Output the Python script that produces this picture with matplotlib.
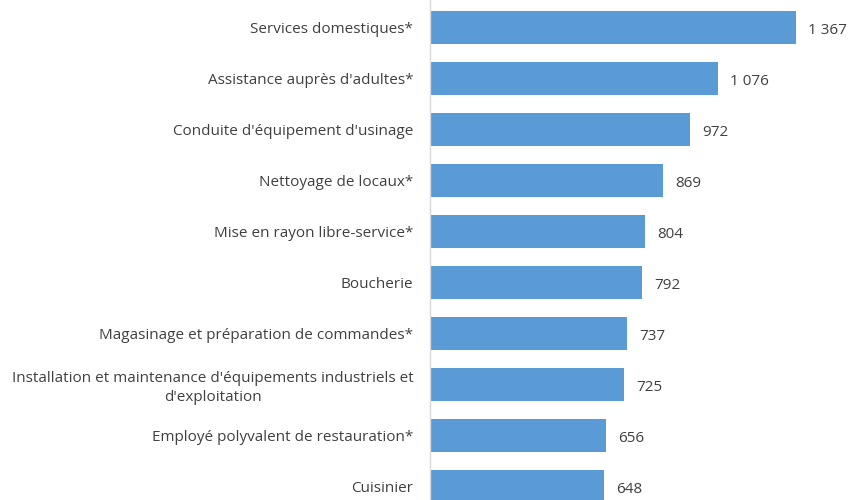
import matplotlib.pyplot as plt

# Data
categories = [
    "Services domestiques*",
    "Assistance auprès d'adultes*",
    "Conduite d'équipement d'usinage",
    "Nettoyage de locaux*",
    "Mise en rayon libre-service*",
    "Boucherie",
    "Magasinage et préparation de commandes*",
    "Installation et maintenance d'équipements industriels et\nd'exploitation",
    "Employé polyvalent de restauration*",
    "Cuisinier",
]
values = [1367, 1076, 972, 869, 804, 792, 737, 725, 656, 648]
value_labels = ["1 367", "1 076", "972", "869", "804", "792", "737", "725", "656", "648"]

plt.rcParams['font.family'] = ['Open Sans', 'DejaVu Sans']
text_color = '#404040'

fig = plt.figure(figsize=(8.52, 5.0), dpi=100)
ax = fig.add_axes([430 / 852, 0, 422 / 852, 1])

pos = list(range(len(values)))
ax.barh(pos, values, height=0.647, color='#5B9BD5')
ax.set_xlim(0, 1575)
ax.set_ylim(9.265, -0.539)

# value labels, nudged down a little like the original
for p, v, lab in zip(pos, values, value_labels):
    ax.text(v + 45, p + 0.05, lab, va='center', ha='left', fontsize=11, color=text_color)

ax.set_yticks(pos)
ax.set_yticklabels(categories, fontsize=11, color=text_color,
                   multialignment='center', linespacing=1.3)
ax.tick_params(axis='y', length=0, pad=12)
ax.set_xticks([])

for s in ['top', 'right', 'bottom']:
    ax.spines[s].set_visible(False)
ax.spines['left'].set_color('#D9D9D9')
ax.spines['left'].set_linewidth(1)

fig.savefig('out.png', dpi=100)
